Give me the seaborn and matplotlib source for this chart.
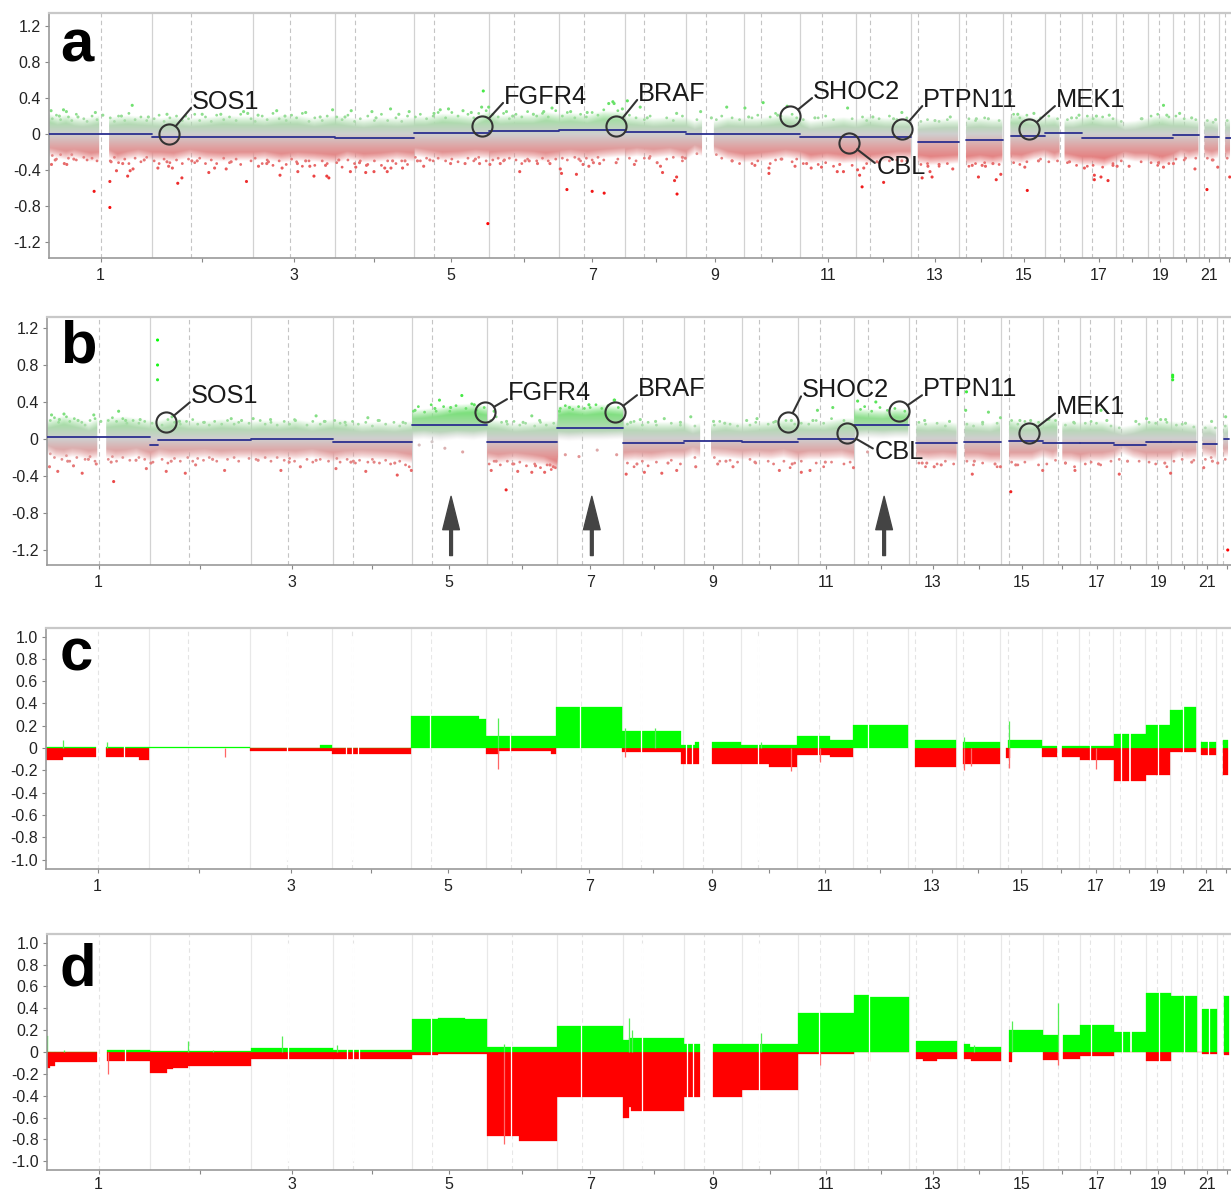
import numpy as np
import pandas as pd
import matplotlib
matplotlib.use('Agg')
import matplotlib.pyplot as plt
import seaborn as sns
from matplotlib.colors import LinearSegmentedColormap, Normalize

nan = float('nan')

# genome layout in Mb
chrom_len = [249, 243, 198, 191, 181, 171, 159, 146, 141, 135, 135, 133, 115, 107, 102, 90, 81, 78, 59, 63, 48, 51]
centromere = [125, 93, 91, 50, 48, 60, 60, 45, 49, 40, 53, 35, 18, 17, 19, 37, 24, 17, 26, 28, 13, 15]

# white slits in the bar panels
probe_gaps = [188, 583, 725, 739, 754, 928, 1120, 1290, 1436, 1546, 1560, 1720, 1864, 1986, 2522, 2596, 2686, 2746, 2807]

# dense part of the cloud, read as an upper and lower edge
cloud_x = [0, 20, 40, 60, 80, 100, 120, nan, 143, 165, 190, 215, 249, 270, 300, 340, 380, 420, 460, 492,
           520, 560, 600, 640, 690, 720, 760, 800, 840, 881, 882, 910, 950, 990, 1030, 1062, 1063, 1090, 1130, 1170, 1200, 1233,
           1234, 1260, 1300, 1340, 1392, 1393, 1420, 1460, 1500, 1538, 1560, 1577, nan, 1605, 1640, 1679, 1710, 1750, 1780, 1814,
           1840, 1880, 1920, 1949, 1950, 1980, 2020, 2050, 2082, nan, 2100, 2130, 2165, 2197, nan, 2216, 2250, 2280, 2304, nan,
           2324, 2350, 2380, 2406, 2430, 2441, nan, 2453, 2475, 2496, 2520, 2550, 2577, 2600, 2625, 2655, 2670, 2690, 2714,
           2735, 2755, 2777, nan, 2792, 2810, 2825, nan, 2842, 2855]
a_up = [.18, .15, .17, .14, .13, .14, .16, nan, .14, .15, .16, .15, .14, .13, .15, .13, .14, .16, .15, .15,
        .14, .16, .16, .13, .16, .14, .12, .14, .13, .14, .15, .15, .18, .17, .15, .21, .2, .16, .17, .17, .2, .18,
        .18, .19, .17, .21, .2, .16, .15, .13, .14, .14, .1, .12, nan, .1, .14, .13, .13, .15, .17, .15,
        .1, .12, .14, .12, .12, .15, .13, .13, .13, nan, .1, .11, .12, .12, nan, .12, .13, .12, .12, nan,
        .17, .17, .14, .14, .15, .13, nan, .12, .12, .14, .16, .14, .14, .09, .1, .13, .15, .16, .14,
        .14, .13, .12, nan, .12, .12, .1, nan, .12, .12]
a_lo = [-.2, -.22, -.24, -.22, -.24, -.26, -.25, nan, -.22, -.27, -.24, -.22, -.25, -.25, -.26, -.22, -.25, -.26, -.25, -.25,
        -.24, -.27, -.25, -.26, -.28, -.24, -.27, -.26, -.24, -.26, -.2, -.22, -.25, -.24, -.22, -.23, -.25, -.24, -.23, -.24, -.26, -.24,
        -.23, -.22, -.24, -.22, -.2, -.22, -.2, -.22, -.2, -.24, -.17, -.2, nan, -.18, -.24, -.27, -.26, -.24, -.22, -.24,
        -.28, -.26, -.28, -.27, -.26, -.28, -.26, -.24, -.24, nan, -.28, -.3, -.29, -.28, nan, -.3, -.28, -.3, -.28, nan,
        -.27, -.28, -.24, -.22, -.26, -.24, nan, -.26, -.28, -.3, -.3, -.32, -.28, -.24, -.26, -.26, -.28, -.3, -.27,
        -.22, -.24, -.22, nan, -.22, -.24, -.22, nan, -.24, -.22]
b_up = [.16, .18, .2, .18, .16, .13, .17, nan, .17, .18, .19, .17, .15, .15, .18, .15, .14, .16, .15, .14,
        .15, .14, .16, .13, .16, .15, .12, .13, .12, .14, .26, .27, .29, .32, .33, .3, .16, .15, .12, .13, .14, .15,
        .3, .32, .3, .32, .3, .14, .14, .13, .13, .14, .1, .12, nan, .12, .14, .12, .13, .14, .16, .15,
        .14, .14, .17, .17, .28, .27, .26, .28, .27, nan, .14, .13, .14, .12, nan, .14, .13, .12, .15, nan,
        .17, .14, .14, .16, .18, .17, nan, .13, .14, .13, .14, .14, .11, .08, .1, .14, .15, .15, .14,
        .13, .12, .11, nan, .1, .11, .08, nan, .1, .12]
b_lo = [-.12, -.16, -.17, -.15, -.16, -.18, -.17, nan, -.16, -.18, -.17, -.15, -.2, -.16, -.18, -.17, -.16, -.18, -.17, -.17,
        -.18, -.17, -.18, -.16, -.2, -.18, -.17, -.18, -.19, -.22, .03, .04, .02, .04, .03, .05, -.2, -.22, -.2, -.22, -.24, -.3,
        .03, .02, .03, .03, .04, -.2, -.19, -.2, -.18, -.18, -.14, -.16, nan, -.15, -.16, -.18, -.17, -.18, -.16, -.2,
        -.18, -.18, -.17, -.2, .04, .05, .04, .05, .05, nan, -.19, -.2, -.19, -.2, nan, -.2, -.2, -.22, -.22, nan,
        -.2, -.2, -.2, -.16, -.19, -.17, nan, -.2, -.2, -.22, -.2, -.2, -.18, -.12, -.17, -.2, -.2, -.2, -.2,
        -.16, -.18, -.17, nan, -.14, -.16, -.18, nan, -.16, -.15]

# single points outside the dense part
a_pts_x = [6, 37, 43, 109, 147, 147, 163, 178, 190, 196, 203, 263, 285, 289, 298, 311, 321, 358, 386, 400, 428, 477, 506, 526, 558, 563, 600, 601, 640, 630,
           671, 676, 668, 728, 741, 767, 765, 785, 811, 817, 826, 854, 830, 1060, 1137, 1235, 1238, 1251, 1274, 1312, 1341, 1304,
           890, 905, 970, 1005, 1040, 1065, 1090, 1150, 1180, 1210, 1290, 1315, 1330, 1370,
           5, 35, 42, 112, 201, 285, 370, 470, 480, 550, 620, 685, 730, 780, 825, 870, 965, 945, 1000, 1045, 1049, 1062, 1105, 1170, 1215, 1260, 1352, 1362, 1385,
           1414, 1469, 1477, 1482, 1516, 1511, 1517, 1537, 1705, 1739, 1739, 1802, 1841, 1866, 1904, 1919, 1964, 1953, 1968, 1958, 2016, 2109, 2133, 2123, 2128, 2183,
           2230, 2254, 2262, 2245, 2288, 2299, 2357, 2363, 2501, 2525, 2525, 2541, 2558, 2580, 2609, 2692, 2716, 2768, 2797, 2823, 2852,
           1365, 1397, 1428, 1516, 1574, 1637, 1681, 1725, 1783, 1929, 2060, 2177, 2269, 2379, 2488, 2561, 2692, 2731, 2818,
           25, 70, 130, 175, 240, 330, 415, 505, 570, 655, 715, 790, 845, 930, 1020, 1120, 1195, 1300, 1445, 1600, 1690, 1760, 1850, 1990, 2040, 2140, 2240, 2340, 2470, 2530, 2640, 2700, 2760,
           15, 60, 150, 230, 345, 440, 530, 620, 700, 750, 860, 920, 1030, 1100, 1160, 1280, 1450, 1530, 1650, 1770, 1830, 1910, 2000, 2060, 2150, 2280, 2390, 2465, 2570, 2680, 2745, 2810]
a_pts_y = [-.34, -.33, -.34, -.64, -.53, -.82, -.41, -.33, -.47, -.41, -.39, -.38, -.31, -.36, -.38, -.55, -.49, -.3, -.43, -.38, -.39, -.53, -.36, -.33, -.46, -.38, -.33, -.42, -.47, -.36,
           -.47, -.49, -.35, -.42, -.37, -.35, -.43, -.42, -.38, -.42, -.38, -.38, -.3, -1.0, -.42, -.39, -.44, -.62, -.45, -.64, -.66, -.36,
           -.3, -.36, -.33, -.33, -.33, -.34, -.33, -.3, -.33, -.33, -.34, -.32, -.33, -.32,
           .26, .27, .25, .24, .32, .22, .22, .25, .23, .26, .24, .27, .26, .25, .28, .25, .28, .27, .26, .3, .48, .3, .25, .22, .29, .25, .34, .36, .28,
           -.34, -.32, -.36, -.43, -.48, -.52, -.67, -.27, -.35, -.38, -.44, -.36, -.38, -.37, -.42, -.42, -.59, -.4, -.38, -.46, -.54, -.49, -.48, -.36, -.42, -.39,
           -.35, -.35, -.36, -.48, -.51, -.45, -.37, -.63, -.38, -.46, -.51, -.48, -.52, -.36, -.36, -.37, -.33, -.39, -.62, -.37, -.48,
           .34, .37, .3, .23, .25, .3, .29, .35, .31, .29, .24, .19, .17, .23, .21, .21, .32, .23, .16,
           .2, .19, .21, .2, .19, .2, .22, .21, .2, .19, .19, .18, .22, .23, .24, .2, .25, .24, .18, .18, .19, .21, .18, .19, .17, .15, .17, .22, .18, .2, .17, .21, .18,
           -.29, -.28, -.31, -.29, -.3, -.31, -.31, -.3, -.29, -.32, -.3, -.29, -.28, -.29, -.3, -.28, -.27, -.26, -.3, -.28, -.33, -.34, -.31, -.3, -.34, -.33, -.3, -.31, -.35, -.32, -.27, -.29]

b_pts_x = [267, 267, 267, 6, 26, 64, 85, 119, 161, 240, 251, 288, 334, 359, 429, 565, 612, 698, 734, 770, 846, 880, 1073, 1109, 1137, 1171, 1202, 1223,
           11, 41, 113, 173, 302, 445, 498, 650, 775, 948, 1002, 889, 937, 975, 1032, 1080, 1171, 1238, 1262, 1309, 1371,
           961, 899, 1004, 930, 1252, 1285, 1329, 1376,
           1399, 1443, 1485, 1521, 1567, 1620, 1657, 1769, 1822, 1843, 1948, 1982, 2114, 2143, 2235, 2303, 2328, 2405, 2483, 2590, 2714, 2794, 2828, 2852,
           1370, 1433, 1491, 1555, 1637, 1715, 1798, 1861, 1898, 1958, 2002, 2221, 2219, 2274, 2303, 2376, 2546, 2656, 2702, 2719, 2719, 2719, 2813, 2847,
           30, 75, 130, 190, 225, 320, 380, 470, 540, 600, 670, 720, 800, 860, 1110, 1150, 1190, 1410, 1470, 1530, 1610, 1690, 1760, 1850, 2120, 2180, 2260, 2350, 2420, 2480, 2560, 2630, 2690, 2750,
           50, 100, 155, 215, 300, 400, 510, 585, 650, 740, 790, 840, 1085, 1125, 1180, 1215, 1425, 1500, 1640, 1710, 1800, 1880, 2125, 2160, 2240, 2290, 2340, 2460, 2540, 2610, 2700, 2765, 2815]
b_pts_y = [1.07, .8, .64, -.3, -.35, -.29, -.37, -.27, -.46, -.32, -.26, -.35, -.37, -.28, -.34, -.34, -.3, -.32, -.25, -.35, -.39, -.34, -.34, -.55, -.35, -.36, -.36, -.3,
           .26, .27, .26, .3, .24, .22, .22, .25, .23, .42, .47, .31, .33, .34, .37, .3, .25, .3, .34, .37, .42,
           -.1, -.065, -.14, -.03, -.17, -.19, -.12, -.17,
           -.38, -.36, -.37, -.34, -.3, -.27, -.3, -.34, -.36, -.34, -.31, -.14, -.26, -.3, -.38, -.3, -.57, -.34, -.34, -.38, -.37, -.31, -.26, -1.2,
           .42, .21, .22, .24, .17, .22, .2, .31, .34, .41, .4, .51, .31, .29, .23, .2, .31, .22, .21, .69, .67, .64, .19, .24,
           .21, .2, .19, .2, .21, .19, .18, .2, .21, .2, .19, .18, .2, .18, .19, .18, .2, .18, .19, .18, .19, .2, .19, .2, .2, .19, .18, .2, .21, .18, .2, .19, .21, .17,
           -.24, -.22, -.25, -.23, -.24, -.22, -.23, -.25, -.23, -.24, -.25, -.26, -.24, -.27, -.29, -.28, -.27, -.26, -.24, -.25, -.27, -.25, -.26, -.28, -.24, -.27, -.28, -.26, -.27, -.24, -.26, -.25, -.24]

# more points along the rim of the cloud, as (position, value)
a_rim = [(8, .17), (18, .21), (28, .16), (47, .19), (55, .15), (66, .22), (84, .17), (92, .14), (104, .2), (116, .16), (148, .18), (158, .14), (168, .2), (183, .15),
         (193, .23), (208, .16), (222, .19), (236, .15), (254, .17), (266, .21), (278, .14), (292, .18), (308, .2), (322, .15), (337, .17), (352, .22), (364, .15), (378, .19),
         (392, .14), (405, .21), (422, .16), (436, .19), (452, .15), (463, .22), (488, .17), (498, .14), (515, .2), (527, .16), (541, .23), (556, .17), (573, .15), (586, .21),
         (598, .18), (612, .23), (628, .14), (642, .18), (660, .15), (672, .2), (695, .19), (708, .16), (722, .21), (738, .14), (752, .17), (770, .2), (786, .15), (803, .22),
         (818, .15), (838, .18), (852, .14), (866, .2), (885, .19), (897, .22), (912, .17), (928, .2), (940, .24), (958, .18), (973, .24), (988, .2), (1012, .22), (1026, .18),
         (1038, .23), (1056, .26), (1072, .22), (1085, .19), (1098, .23), (1112, .17), (1128, .22), (1142, .19), (1156, .25), (1178, .2), (1192, .23), (1206, .19), (1224, .26),
         (1240, .2), (1252, .24), (1270, .18), (1284, .22), (1298, .19), (1312, .24), (1326, .21), (1340, .27), (1374, .26), (1402, .21), (1418, .18), (1438, .16), (1452, .2),
         (1492, .18), (1508, .15), (1530, .2), (1565, .16), (1612, .16), (1625, .2), (1650, .18), (1668, .16), (1698, .18), (1712, .21), (1742, .19), (1755, .23), (1768, .2),
         (1795, .22), (1806, .18), (1822, .16), (1858, .18), (1876, .2), (1895, .16), (1940, .17), (1965, .19), (1975, .15), (2005, .17), (2030, .2), (2048, .16), (2072, .18),
         (2106, .14), (2122, .16), (2150, .14), (2170, .16), (2222, .17), (2238, .15), (2260, .18), (2295, .15), (2330, .22), (2345, .18), (2362, .21), (2395, .18), (2415, .2),
         (2436, .17), (2460, .16), (2482, .18), (2508, .2), (2522, .17), (2545, .19), (2570, .17), (2590, .14), (2638, .17), (2662, .2), (2678, .22), (2705, .19), (2722, .2),
         (2742, .17), (2770, .16), (2798, .15), (2812, .13), (2846, .15),
         (8, -.24), (18, -.28), (28, -.23), (47, -.27), (55, -.23), (66, -.29), (84, -.26), (92, -.29), (104, -.27), (116, -.3), (148, -.3), (158, -.26), (168, -.32), (183, -.28),
         (193, -.33), (208, -.27), (222, -.31), (236, -.26), (254, -.3), (266, -.33), (278, -.28), (292, -.32), (308, -.29), (322, -.33), (337, -.28), (352, -.32), (364, -.27),
         (378, -.33), (392, -.29), (405, -.33), (422, -.27), (436, -.32), (452, -.28), (463, -.34), (488, -.3), (498, -.27), (515, -.33), (527, -.29), (541, -.35), (556, -.3),
         (573, -.34), (586, -.28), (598, -.31), (612, -.36), (628, -.3), (642, -.35), (660, -.3), (672, -.33), (695, -.32), (708, -.37), (722, -.29), (738, -.33), (752, -.3),
         (770, -.34), (786, -.3), (803, -.35), (818, -.3), (838, -.33), (852, -.3), (866, -.34), (885, -.26), (897, -.3), (912, -.27), (928, -.3), (940, -.27), (958, -.3),
         (973, -.28), (988, -.31), (1012, -.27), (1026, -.3), (1038, -.26), (1056, -.3), (1072, -.29), (1085, -.27), (1098, -.3), (1112, -.27), (1128, -.29), (1142, -.33),
         (1156, -.28), (1178, -.3), (1192, -.27), (1206, -.3), (1224, -.28), (1240, -.27), (1252, -.29), (1270, -.26), (1284, -.3), (1298, -.27), (1312, -.29), (1326, -.26),
         (1340, -.29), (1374, -.28), (1402, -.27), (1418, -.3), (1438, -.27), (1452, -.25), (1492, -.28), (1508, -.26), (1530, -.3), (1565, -.22), (1612, -.23), (1625, -.27),
         (1650, -.3), (1668, -.33), (1698, -.33), (1712, -.3), (1742, -.33), (1755, -.29), (1768, -.28), (1795, -.31), (1806, -.28), (1822, -.33), (1858, -.34), (1876, -.32),
         (1895, -.36), (1940, -.35), (1975, -.33), (2005, -.32), (2030, -.3), (2048, -.29), (2072, -.3), (2106, -.34), (2122, -.33), (2150, -.36), (2170, -.33), (2222, -.36),
         (2238, -.33), (2260, -.32), (2295, -.34), (2330, -.32), (2345, -.34), (2362, -.31), (2395, -.28), (2415, -.31), (2436, -.3), (2460, -.32), (2482, -.35), (2508, -.36),
         (2522, -.35), (2545, -.37), (2570, -.33), (2590, -.3), (2638, -.31), (2662, -.32), (2678, -.35), (2705, -.33), (2722, -.28), (2742, -.29), (2770, -.27), (2798, -.27),
         (2812, -.29), (2846, -.27)]
b_rim = [(8, .2), (18, .23), (28, .18), (47, .24), (55, .19), (66, .22), (84, .18), (92, .15), (104, .2), (116, .22), (148, .2), (158, .23), (168, .19), (183, .22),
         (193, .17), (208, .2), (222, .17), (236, .19), (254, .17), (278, .15), (292, .21), (308, .18), (322, .16), (337, .19), (352, .21), (364, .16), (378, .18), (392, .15),
         (405, .19), (422, .16), (436, .2), (452, .16), (463, .18), (488, .17), (515, .2), (527, .16), (541, .18), (556, .15), (573, .19), (586, .16), (598, .21), (628, .15),
         (642, .19), (660, .16), (672, .19), (695, .2), (708, .17), (722, .15), (738, .19), (752, .16), (770, .18), (786, .14), (803, .2), (818, .16), (838, .18), (852, .14),
         (866, .17), (885, .3), (897, .35), (912, .29), (928, .37), (940, .3), (958, .35), (973, .3), (988, .36), (1012, .33), (1026, .38), (1038, .31), (1056, .34), (1072, .2),
         (1085, .24), (1098, .18), (1112, .16), (1128, .19), (1142, .15), (1156, .17), (1178, .14), (1192, .18), (1206, .15), (1224, .17), (1240, .33), (1252, .36), (1270, .32),
         (1284, .35), (1298, .33), (1312, .34), (1326, .37), (1340, .33), (1355, .36), (1380, .34), (1402, .16), (1418, .19), (1438, .15), (1452, .18), (1472, .15), (1508, .17),
         (1530, .15), (1565, .14), (1612, .15), (1625, .19), (1650, .16), (1668, .14), (1698, .15), (1712, .18), (1742, .16), (1755, .18), (1768, .16), (1785, .2), (1806, .16),
         (1822, .17), (1840, .16), (1858, .2), (1876, .17), (1895, .22), (1925, .2), (1965, .32), (1975, .35), (1992, .3), (2012, .34), (2030, .31), (2048, .33), (2072, .3),
         (2106, .18), (2122, .16), (2150, .17), (2170, .14), (2222, .16), (2238, .14), (2260, .16), (2295, .17), (2330, .2), (2345, .16), (2362, .19), (2395, .18), (2415, .21),
         (2436, .2), (2460, .15), (2482, .17), (2508, .17), (2522, .19), (2535, .17), (2570, .14), (2590, .12), (2638, .16), (2662, .18), (2678, .17), (2705, .18), (2728, .15),
         (2742, .16), (2770, .13), (2798, .12), (2822, .12), (2846, .14),
         (8, -.16), (18, -.2), (36, -.22), (47, -.18), (55, -.24), (72, -.2), (92, -.22), (104, -.19), (116, -.24), (148, -.22), (158, -.19), (168, -.24), (183, -.2), (200, -.23),
         (222, -.2), (236, -.22), (256, -.25), (278, -.22), (292, -.26), (308, -.21), (322, -.24), (340, -.2), (352, -.24), (364, -.21), (378, -.23), (392, -.2), (410, -.24),
         (436, -.22), (452, -.2), (463, -.24), (488, -.21), (505, -.22), (527, -.2), (541, -.24), (556, -.2), (573, -.23), (586, -.21), (598, -.24), (628, -.22), (642, -.25),
         (660, -.22), (680, -.24), (700, -.21), (708, -.25), (725, -.22), (745, -.26), (755, -.23), (775, -.25), (786, -.22), (803, -.26), (818, -.23), (830, -.27), (852, -.24),
         (866, -.28), (875, -.3), (1068, -.27), (1080, -.24), (1095, -.28), (1112, -.24), (1128, -.27), (1142, -.25), (1158, -.29), (1178, -.27), (1192, -.31), (1208, -.28),
         (1218, -.33), (1228, -.31), (1402, -.26), (1418, -.3), (1438, -.24), (1452, -.29), (1472, -.25), (1508, -.23), (1530, -.27), (1565, -.2), (1612, -.2), (1625, -.24),
         (1650, -.23), (1668, -.25), (1698, -.22), (1712, -.26), (1742, -.24), (1755, -.27), (1780, -.24), (1795, -.31), (1806, -.26), (1822, -.24), (1858, -.26), (1876, -.3),
         (1895, -.25), (1925, -.27), (1940, -.25), (2106, -.26), (2122, -.3), (2150, -.27), (2170, -.24), (2190, -.27), (2222, -.24), (2238, -.28), (2260, -.26), (2295, -.3),
         (2330, -.25), (2345, -.28), (2362, -.25), (2395, -.28), (2415, -.27), (2436, -.23), (2460, -.26), (2482, -.3), (2508, -.27), (2522, -.25), (2545, -.28), (2570, -.24),
         (2590, -.22), (2638, -.24), (2662, -.25), (2678, -.27), (2705, -.3), (2722, -.24), (2742, -.22), (2770, -.23), (2798, -.22), (2812, -.2), (2846, -.22)]

# segment lines, nan where a stretch is left empty
a_seg_edges = [0, 249, 690, 881, 1062, 1233, 1392, 1538, 1814, 2082, 2100, 2197, 2216, 2304, 2324, 2406, 2496, 2714, 2777, 2792, 2825, 2842, 2855]
a_seg_vals = [-.005, -.03, -.05, .01, .03, .045, .02, 0, -.035, nan, -.085, nan, -.065, nan, -.02, .01, -.05, -.01, nan, -.035, nan, -.04]
b_seg_edges = [0, 249, 268, 492, 690, 881, 1062, 1233, 1392, 1538, 1679, 1814, 1949, 2082, 2100, 2197, 2216, 2304, 2324, 2406, 2496, 2577, 2655, 2714, 2777, 2792, 2825, 2842, 2855]
b_seg_vals = [.02, -.07, -.01, .005, -.035, .15, -.03, .12, -.04, -.02, -.035, 0, .15, nan, -.04, nan, -.03, nan, -.02, -.04, -.04, -.06, -.035, -.03, nan, -.05, nan, 0]

# bar panels as step edges and heights
c_up_edges = [0, 121, 144, 492, 661, 691, 881, 1045, 1062, 1233, 1392, 1534, 1568, 1577, 1609, 1678, 1814, 1893, 1949, 2082, 2100, 2197, 2216, 2304, 2324, 2406, 2441, 2453, 2580, 2616, 2621, 2657, 2716, 2746, 2777, 2790, 2825, 2842, 2855]
c_up_vals = [.005, nan, .005, .003, .025, .003, .29, .26, .105, .37, .155, .025, .05, nan, .05, .025, .105, .075, .21, nan, .075, nan, .05, nan, .075, .02, nan, .02, .13, nan, .13, .21, .345, .37, nan, .05, nan, .075]
c_dn_edges = [0, 40, 121, 144, 225, 249, 492, 690, 881, 1062, 1095, 1220, 1233, 1392, 1534, 1577, 1609, 1746, 1814, 1893, 1949, 2082, 2100, 2197, 2216, 2304, 2320, 2328, 2406, 2441, 2453, 2498, 2580, 2616, 2621, 2657, 2716, 2777, 2790, 2825, 2842, 2855]
c_dn_vals = [-.11, -.085, nan, -.085, -.11, nan, -.025, -.055, nan, -.055, -.03, -.055, nan, -.035, -.14, nan, -.14, -.17, -.06, -.085, nan, nan, -.17, nan, -.14, nan, -.09, nan, -.085, nan, -.085, -.11, -.3, nan, -.3, -.245, -.035, nan, -.06, nan, -.245]
c_spike_x = [41, 148, 432, 1092, 1092, 1398, 1398, 1470, 1726, 1800, 1870, 2218, 2218, 2235, 2325, 2325, 2536]
c_spike_y = [.07, .05, -.085, .27, -.19, .18, -.08, .18, .05, -.21, -.13, .1, -.2, -.16, .24, -.18, -.19]

d_up_edges = [0, 3, 121, 144, 249, 492, 690, 881, 945, 1010, 1062, 1233, 1392, 1405, 1538, 1577, 1609, 1814, 1949, 1985, 2082, 2100, 2197, 2216, 2230, 2304, 2324, 2406, 2441, 2453, 2496, 2577, 2615, 2621, 2655, 2714, 2777, 2790, 2825, 2842, 2855]
d_up_vals = [.15, .003, nan, .02, .01, .035, .02, .3, .31, .3, .05, .24, .11, .13, .07, nan, .07, .36, .525, .5, nan, .105, nan, .07, .05, nan, .2, .155, nan, .155, .245, .185, nan, .185, .54, .51, nan, .39, nan, .51]
d_dn_edges = [0, 8, 20, 121, 144, 225, 249, 290, 305, 340, 492, 881, 945, 1062, 1140, 1233, 1392, 1405, 1410, 1538, 1577, 1609, 1679, 1814, 1949, 2082, 2100, 2115, 2150, 2197, 2216, 2232, 2304, 2324, 2332, 2406, 2441, 2453, 2496, 2577, 2655, 2714, 2790, 2825, 2842, 2855]
d_dn_vals = [-.15, -.13, -.09, nan, -.08, -.08, -.19, -.16, -.145, -.125, -.065, -.03, -.015, -.77, -.81, -.41, -.6, -.5, -.54, -.41, nan, -.415, -.35, -.018, -.003, nan, -.06, -.08, -.06, nan, -.06, -.08, nan, -.09, nan, -.075, nan, -.06, -.035, -.003, -.08, -.003, -.015, nan, -.03]
d_spike_x = [40, 147, 340, 400, 567, 700, 1105, 1405, 1412, 1724, 1868, 1985, 2238, 2330, 2441, 2441, 1105]
d_spike_y = [.02, -.2, .1, .015, .15, .065, .07, .31, .2, .175, -.12, -.08, .06, .28, .45, -.12, -.84]

# gene markers: circle position and label offset in pixels
gene_names = ['SOS1', 'FGFR4', 'BRAF', 'SHOC2', 'PTPN11', 'MEK1', 'CBL']
a_gene_x = [290, 1046, 1370, 1790, 2061, 2367, 1932]
a_gene_y = [.0, .09, .09, .2, .055, .055, -.1]
a_label_dx = [23, 22, 22, 23, 21, 27, 28]
a_label_dy = [34, 31, 34, 26, 31, 31, -22]
b_gene_x = [287, 1058, 1372, 1790, 2058, 2372, 1932]
b_gene_y = [.18, .29, .29, .18, .3, .06, .06]
b_label_dx = [25, 23, 23, 14, 24, 27, 28]
b_label_dy = [28, 21, 25, 34, 24, 28, -17]
arrow_x = [976, 1316, 2022]

panel_letters = ['a', 'b', 'c', 'd']

sns.set_theme(style='white')
plt.rcParams['font.family'] = ['Liberation Sans', 'DejaVu Sans']

W, H = 1231, 1191
MB_PX = 0.414
value_cmap = LinearSegmentedColormap.from_list('cgh', [
    (0.0, '#ff0000'), (0.2, '#f01818'), (0.32, '#e86464'), (0.425, '#e0a0a0'), (0.5, '#cfcfcf'),
    (0.575, '#a8dca8'), (0.65, '#74e074'), (0.75, '#40ea40'), (1.0, '#00ff00')])
value_norm = Normalize(-1, 1)

chrom_end = np.cumsum(chrom_len)
chrom_start = chrom_end - np.array(chrom_len)
chrom_mid = chrom_start + np.array(chrom_len) / 2
centro_pos = chrom_start + np.array(centromere)


def make_axes(left, top, bottom, zero_y, unit):
    ax = fig.add_axes([left / W, 1 - bottom / H, (W - left) / W, (bottom - top) / H])
    ax.set_xlim(0, (W - left) / MB_PX)
    ax.set_ylim(-(bottom - zero_y) / unit, (zero_y - top) / unit)
    ax.patch.set_alpha(0)
    return ax


def dress_axes(ax, yticks, ylabels, line_col, dash_col, lw=0.9, xpad=4.5):
    ax.vlines(chrom_end[:-1], *ax.get_ylim(), color=line_col, lw=lw, zorder=1)
    ax.vlines(centro_pos, *ax.get_ylim(), color=dash_col, lw=0.8, ls=(0, (4, 3)), zorder=1)
    ax.set_yticks(yticks, ylabels)
    ax.set_xticks(chrom_mid, [str(i + 1) if i % 2 == 0 else '' for i in range(22)])
    ax.tick_params(axis='both', length=3, width=0.8, color='#888888', labelsize=11.5, labelcolor='#222222', left=True, bottom=True)
    ax.tick_params(axis='x', pad=xpad)
    ax.tick_params(axis='y', pad=3)
    ax.spines['right'].set_visible(False)
    ax.spines['top'].set_color('#c8c8c8')
    ax.spines['top'].set_linewidth(1.6)
    for side in ['left', 'bottom']:
        ax.spines[side].set_color('#999999')
        ax.spines[side].set_linewidth(1.2)


def clear_labels(ax):
    ax.set_xlabel('')
    ax.set_ylabel('')


def draw_cloud(ax, up, lo):
    # colour by value, opacity fades across the read edges of the cloud
    xlim, ylim = ax.get_xlim(), ax.get_ylim()
    grad_y = np.linspace(.5, -.5, 300)
    grid_x = np.linspace(xlim[0], xlim[1], 1200)
    rgba = np.tile(value_cmap(value_norm(grad_y))[:, None, :], (1, grid_x.size, 1))
    alpha = np.zeros((grad_y.size, grid_x.size))
    xs, us, ls = np.array(cloud_x, float), np.array(up, float), np.array(lo, float)
    breaks = [-1] + list(np.where(np.isnan(xs))[0]) + [xs.size]
    for a, b in zip(breaks[:-1], breaks[1:]):
        run_x, run_u, run_l = xs[a + 1:b], us[a + 1:b], ls[a + 1:b]
        cols = np.where((grid_x >= run_x[0]) & (grid_x <= run_x[-1]))[0]
        top = np.interp(grid_x[cols], run_x, run_u)
        bot = np.interp(grid_x[cols], run_x, run_l)
        dist = np.minimum(top[None, :] - grad_y[:, None], grad_y[:, None] - bot[None, :])
        alpha[:, cols] = np.clip((dist + .05) / .1, 0, 1)
    rgba[:, :, 3] = alpha
    ax.imshow(rgba, extent=[xlim[0], xlim[1], -.5, .5], aspect='auto', zorder=1.5, interpolation='bilinear')
    ax.set_xlim(xlim)
    ax.set_ylim(ylim)


def draw_points(ax, xs, ys, size=5):
    pts = pd.DataFrame({'pos': xs, 'ratio': ys})
    sns.scatterplot(data=pts, x='pos', y='ratio', hue='ratio', hue_norm=value_norm, palette=value_cmap,
                    s=size, linewidth=0, legend=False, ax=ax, zorder=2)


def draw_segments(ax, edges, vals):
    rows = []
    for i, v in enumerate(vals):
        if not np.isnan(v):
            rows.append({'seg': i, 'pos': edges[i], 'ratio': v})
            rows.append({'seg': i, 'pos': edges[i + 1], 'ratio': v})
    sns.lineplot(data=pd.DataFrame(rows), x='pos', y='ratio', units='seg', estimator=None, color='#2b2f8f',
                 lw=1.3, ax=ax, zorder=3, legend=False)


def draw_genes(ax, xs, ys, dxs, dys):
    for name, x, y, dx, dy in zip(gene_names, xs, ys, dxs, dys):
        ax.plot([x], [y], 'o', mfc='none', mec='#333333', mew=1.5, ms=14.5, zorder=5)
        ax.annotate(name, xy=(x, y), xytext=(dx, dy - 2), textcoords='offset pixels', fontsize=18.3, color='#1a1a1a',
                    ha='left', va='center', zorder=6)
        # leader from the circle edge to the corner of the label
        end = (dx - 2, dy + 2) if dy < 0 else (dx - 1, dy - 8)
        ax.annotate('', xy=(x, y), xytext=end, textcoords='offset pixels', zorder=6,
                    arrowprops=dict(arrowstyle='-', color='#333333', lw=1.5, shrinkA=0, shrinkB=7.5))


def draw_bars(ax, edges, vals, color):
    edges = np.array(edges, dtype=float)
    vals = np.array(vals, dtype=float)
    keep = ~np.isnan(vals)
    ax.bar(edges[:-1][keep], vals[keep], width=np.diff(edges)[keep], align='edge', color=color,
           edgecolor=color, lw=0.2, zorder=2)


def draw_bar_panel(ax, up_edges, up_vals, dn_edges, dn_vals, spike_x, spike_y):
    draw_bars(ax, dn_edges, dn_vals, '#ff0000')
    draw_bars(ax, up_edges, up_vals, '#00ff00')
    sx, sy = np.array(spike_x), np.array(spike_y)
    ax.vlines(sx[sy > 0], 0, sy[sy > 0], color='#55ee55', lw=0.9, zorder=2)
    ax.vlines(sx[sy < 0], 0, sy[sy < 0], color='#ff6666', lw=0.9, zorder=2)
    ax.vlines(probe_gaps, -1.0, 1.0, color='white', lw=0.9, zorder=2.5)


fig = plt.figure(figsize=(W / 100, H / 100), dpi=100)
log_ticks = [-1.2, -.8, -.4, 0, .4, .8, 1.2]
log_labels = ['-1.2', '-0.8', '-0.4', '0', '0.4', '0.8', '1.2']

# panel a
ax_a = make_axes(49, 13, 258, 134, 89.6)
dress_axes(ax_a, log_ticks, log_labels, '#d2d2d2', '#c4c4c4')
draw_cloud(ax_a, a_up, a_lo)
draw_points(ax_a, [p[0] for p in a_rim], [p[1] for p in a_rim], size=4)
draw_points(ax_a, a_pts_x, a_pts_y)
draw_segments(ax_a, a_seg_edges, a_seg_vals)
draw_genes(ax_a, a_gene_x, a_gene_y, a_label_dx, a_label_dy)
clear_labels(ax_a)

# panel b
ax_b = make_axes(47, 317, 565, 439, 92.5)
dress_axes(ax_b, log_ticks, log_labels, '#d2d2d2', '#c4c4c4')
draw_cloud(ax_b, b_up, b_lo)
draw_points(ax_b, [p[0] for p in b_rim], [p[1] for p in b_rim], size=4)
draw_points(ax_b, b_pts_x, b_pts_y)
draw_segments(ax_b, b_seg_edges, b_seg_vals)
draw_genes(ax_b, b_gene_x, b_gene_y, b_label_dx, b_label_dy)
for x in arrow_x:
    ax_b.annotate('', xy=(x, -.62), xytext=(x, -1.26), zorder=6,
                  arrowprops=dict(facecolor='#444444', edgecolor='#444444', width=2, headwidth=12, headlength=24, shrink=0))
clear_labels(ax_b)

bar_ticks = [-1, -.8, -.6, -.4, -.2, 0, .2, .4, .6, .8, 1]
bar_labels = ['-1.0', '-0.8', '-0.6', '-0.4', '-0.2', '0', '0.2', '0.4', '0.6', '0.8', '1.0']

# panel c
ax_c = make_axes(46, 628, 869, 748, 111.5)
dress_axes(ax_c, bar_ticks, bar_labels, '#e8e8e8', '#e4e4e4')
draw_bar_panel(ax_c, c_up_edges, c_up_vals, c_dn_edges, c_dn_vals, c_spike_x, c_spike_y)

# panel d
ax_d = make_axes(47, 934, 1170, 1052, 109.3)
dress_axes(ax_d, bar_ticks, bar_labels, '#e8e8e8', '#e4e4e4', xpad=2)
draw_bar_panel(ax_d, d_up_edges, d_up_vals, d_dn_edges, d_dn_vals, d_spike_x, d_spike_y)

for ax, letter, top in zip([ax_a, ax_b, ax_c, ax_d], panel_letters, [46, 347, 655, 970]):
    fig.text(60 / W, 1 - top / H, letter, fontsize=43, fontweight='bold', color='black', ha='left', va='center')

fig.savefig('out.png', dpi=100)
